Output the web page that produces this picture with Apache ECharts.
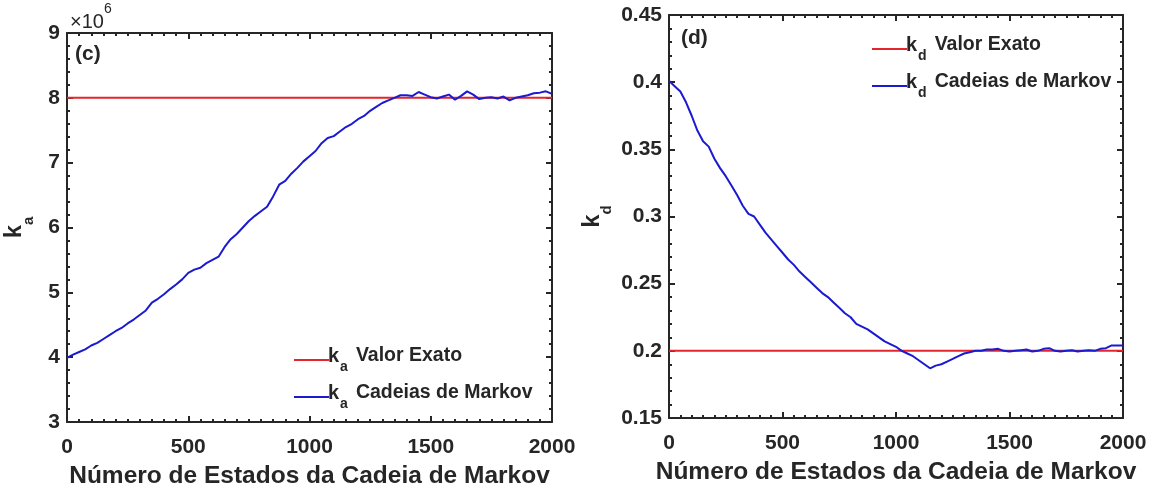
<!DOCTYPE html>
<html>
<head>
<meta charset="utf-8">
<style>
  html, body { margin: 0; padding: 0; background: #fff; }
  #chart { width: 1154px; height: 493px; }
</style>
<script src="https://cdn.jsdelivr.net/npm/echarts@6/dist/echarts.min.js"></script>
</head>
<body>
<div id="chart"></div>
<script>
// Markov chain states (x), sampled every 25 states
const steps = [];
for (let s = 0; s <= 2000; s += 25) steps.push(s);

// k_a chain values, in units of 10^6
const kaChain = [
  3.99, 4.04, 4.08, 4.12, 4.18, 4.22, 4.28, 4.34, 4.40, 4.45,
  4.52, 4.58, 4.65, 4.72, 4.84, 4.90, 4.97, 5.05, 5.12, 5.20,
  5.30, 5.35, 5.38, 5.45, 5.50, 5.55, 5.70, 5.82, 5.90, 6.00,
  6.10, 6.18, 6.25, 6.32, 6.48, 6.66, 6.72, 6.83, 6.92, 7.02,
  7.10, 7.18, 7.30, 7.38, 7.41, 7.48, 7.55, 7.60, 7.67, 7.72,
  7.80, 7.86, 7.92, 7.96, 8.00, 8.04, 8.04, 8.03, 8.09, 8.05,
  8.01, 7.99, 8.02, 8.05, 7.97, 8.03, 8.10, 8.05, 7.98, 8.00,
  8.01, 7.99, 8.02, 7.96, 8.00, 8.02, 8.04, 8.07, 8.08, 8.10,
  8.06
];

// k_d chain values
const kdChain = [
  0.401, 0.397, 0.393, 0.385, 0.375, 0.364, 0.356, 0.352, 0.343, 0.336,
  0.330, 0.323, 0.316, 0.308, 0.302, 0.300, 0.294, 0.288, 0.283, 0.278,
  0.273, 0.268, 0.264, 0.259, 0.255, 0.251, 0.247, 0.243, 0.240, 0.236,
  0.232, 0.228, 0.225, 0.220, 0.218, 0.216, 0.213, 0.210, 0.207, 0.205,
  0.203, 0.200, 0.198, 0.196, 0.193, 0.190, 0.187, 0.189, 0.190, 0.192,
  0.194, 0.196, 0.198, 0.199, 0.200, 0.200, 0.201, 0.201, 0.2015, 0.200,
  0.1995, 0.200, 0.2005, 0.201, 0.1995, 0.200, 0.2015, 0.202, 0.200, 0.1995,
  0.200, 0.2005, 0.1995, 0.200, 0.2005, 0.200, 0.2015, 0.202, 0.204, 0.204,
  0.204
];

// exact parameter values
const kaExact = 8;      // x 10^6
const kdExact = 0.2;

const xRange = [0, 2000];
const xTicks = [0, 500, 1000, 1500, 2000];
const kaTicks = [3, 4, 5, 6, 7, 8, 9];
const kdTicks = [0.15, 0.2, 0.25, 0.3, 0.35, 0.4, 0.45];

const seriesNames = {
  kaExact: 'ka Valor Exato',
  kaChain: 'ka Cadeias de Markov',
  kdExact: 'kd Valor Exato',
  kdChain: 'kd Cadeias de Markov'
};

const INK = '#262626';
const RED = '#e3262b';
const BLUE = '#1a1ad0';
const FONT = '"Liberation Sans", Arial, sans-serif';

const pairs = (xs, ys) => xs.map((x, i) => [x, ys[i]]);

function xAxisPair(gridIndex) {
  const base = {
    type: 'value', gridIndex, min: xRange[0], max: xRange[1],
    interval: xTicks[1] - xTicks[0],
    axisLine: { show: true, onZero: false, lineStyle: { color: INK, width: 2 } },
    axisTick: { show: true, inside: true, length: 6, lineStyle: { color: INK, width: 2 } },
    minorTick: { show: true, splitNumber: 10, length: 3, lineStyle: { color: INK, width: 2 } },
    splitLine: { show: false }
  };
  return [
    Object.assign({}, base, {
      position: 'bottom',
      axisLabel: {
        show: true, color: INK, fontSize: 21, fontWeight: 'bold', fontFamily: FONT, margin: 15,
        formatter: v => String(v)
      },
      name: 'Número de Estados da Cadeia de Markov',
      nameLocation: 'middle', nameGap: 42,
      nameTextStyle: { color: INK, fontSize: 24.5, fontWeight: 'bold', fontFamily: FONT }
    }),
    Object.assign({}, base, { position: 'top', axisLabel: { show: false } })
  ];
}

function yAxisPair(gridIndex, ticks, sub, nameGap) {
  const step = +(ticks[1] - ticks[0]).toFixed(4);
  const base = {
    type: 'value', gridIndex, min: ticks[0], max: ticks[ticks.length - 1], interval: step,
    axisLine: { show: true, onZero: false, lineStyle: { color: INK, width: 2 } },
    axisTick: { show: true, inside: true, length: 6, lineStyle: { color: INK, width: 2 } },
    minorTick: { show: true, splitNumber: 5, length: 3, lineStyle: { color: INK, width: 2 } },
    splitLine: { show: false }
  };
  return [
    Object.assign({}, base, {
      position: 'left',
      axisLabel: {
        show: true, color: INK, fontSize: 21, fontWeight: 'bold', fontFamily: FONT, margin: 7,
        formatter: v => String(+v.toFixed(2))
      },
      name: '{k|k}{s|' + sub + '}',
      nameLocation: 'middle', nameGap: nameGap, nameRotate: 90,
      nameTextStyle: {
        color: INK, fontFamily: FONT,
        rich: {
          k: { fontSize: 24, fontWeight: 'bold', color: INK, fontFamily: FONT, lineHeight: 34, verticalAlign: 'top' },
          s: { fontSize: 15, fontWeight: 'bold', color: INK, fontFamily: FONT, lineHeight: 34, verticalAlign: 'bottom' }
        }
      }
    }),
    Object.assign({}, base, { position: 'right', axisLabel: { show: false } })
  ];
}

const legendRich = {
  k: { fontSize: 20, fontWeight: 'bold', color: INK, fontFamily: FONT, lineHeight: 28, verticalAlign: 'top' },
  s: { fontSize: 14, fontWeight: 'bold', color: INK, fontFamily: FONT, lineHeight: 28, verticalAlign: 'bottom', padding: [0, 8, 0, 1] },
  t: { fontSize: 19.5, fontWeight: 'bold', color: INK, fontFamily: FONT, lineHeight: 28, verticalAlign: 'top' }
};
function legendFormatter(name) {
  const sub = name.charAt(1);
  const rest = name.slice(3);
  return '{k|k}{s|' + sub + '}{t|' + rest + '}';
}
function legendAt(left, top, names) {
  return {
    orient: 'vertical', left, top, itemGap: 9,
    itemWidth: 35, itemHeight: 2, icon: 'rect',
    data: names, selectedMode: false,
    formatter: legendFormatter,
    textStyle: { rich: legendRich, padding: [0, 0, 0, -6] }
  };
}

const xa = xAxisPair(0), xb = xAxisPair(1);
const ya = yAxisPair(0, kaTicks, 'a', 31);
const yb = yAxisPair(1, kdTicks, 'd', 55);

const chart = echarts.init(document.getElementById('chart'), null, { renderer: 'canvas' });
chart.setOption({
  animation: false,
  backgroundColor: '#ffffff',
  grid: [
    { left: 67, top: 33, width: 485, height: 389, containLabel: false, outerBoundsMode: 'none' },
    { left: 669, top: 15, width: 454, height: 403, containLabel: false, outerBoundsMode: 'none' }
  ],
  xAxis: [xa[0], xa[1], xb[0], xb[1]],
  yAxis: [ya[0], ya[1], yb[0], yb[1]],
  legend: [
    legendAt(289, 341, [seriesNames.kaExact, seriesNames.kaChain]),
    legendAt(867, 30, [seriesNames.kdExact, seriesNames.kdChain])
  ],
  graphic: [
    {
      type: 'text', left: 70, top: 2,
      style: {
        text: '{m|×10}{e|6}', fill: INK,
        rich: {
          m: { fontSize: 20, fontFamily: FONT, fill: INK, lineHeight: 30, verticalAlign: 'bottom' },
          e: { fontSize: 14, fontFamily: FONT, fill: INK, lineHeight: 30, verticalAlign: 'top' }
        }
      }
    },
    {
      type: 'text', left: 75, top: 44,
      style: { text: '(c)', fill: INK, fontSize: 21, fontWeight: 'bold', fontFamily: FONT }
    },
    {
      type: 'text', left: 681, top: 28,
      style: { text: '(d)', fill: INK, fontSize: 21, fontWeight: 'bold', fontFamily: FONT }
    }
  ],
  series: [
    {
      name: seriesNames.kaExact, type: 'line', xAxisIndex: 0, yAxisIndex: 0,
      data: [[xRange[0], kaExact], [xRange[1], kaExact]],
      showSymbol: false, lineStyle: { color: RED, width: 2 }, itemStyle: { color: RED }, z: 2
    },
    {
      name: seriesNames.kaChain, type: 'line', xAxisIndex: 0, yAxisIndex: 0,
      data: pairs(steps, kaChain),
      showSymbol: false, lineStyle: { color: BLUE, width: 2 }, itemStyle: { color: BLUE }, z: 3
    },
    {
      name: seriesNames.kdExact, type: 'line', xAxisIndex: 2, yAxisIndex: 2,
      data: [[xRange[0], kdExact], [xRange[1], kdExact]],
      showSymbol: false, lineStyle: { color: RED, width: 2 }, itemStyle: { color: RED }, z: 2
    },
    {
      name: seriesNames.kdChain, type: 'line', xAxisIndex: 2, yAxisIndex: 2,
      data: pairs(steps, kdChain),
      showSymbol: false, lineStyle: { color: BLUE, width: 2 }, itemStyle: { color: BLUE }, z: 3
    }
  ]
});
</script>
</body>
</html>
